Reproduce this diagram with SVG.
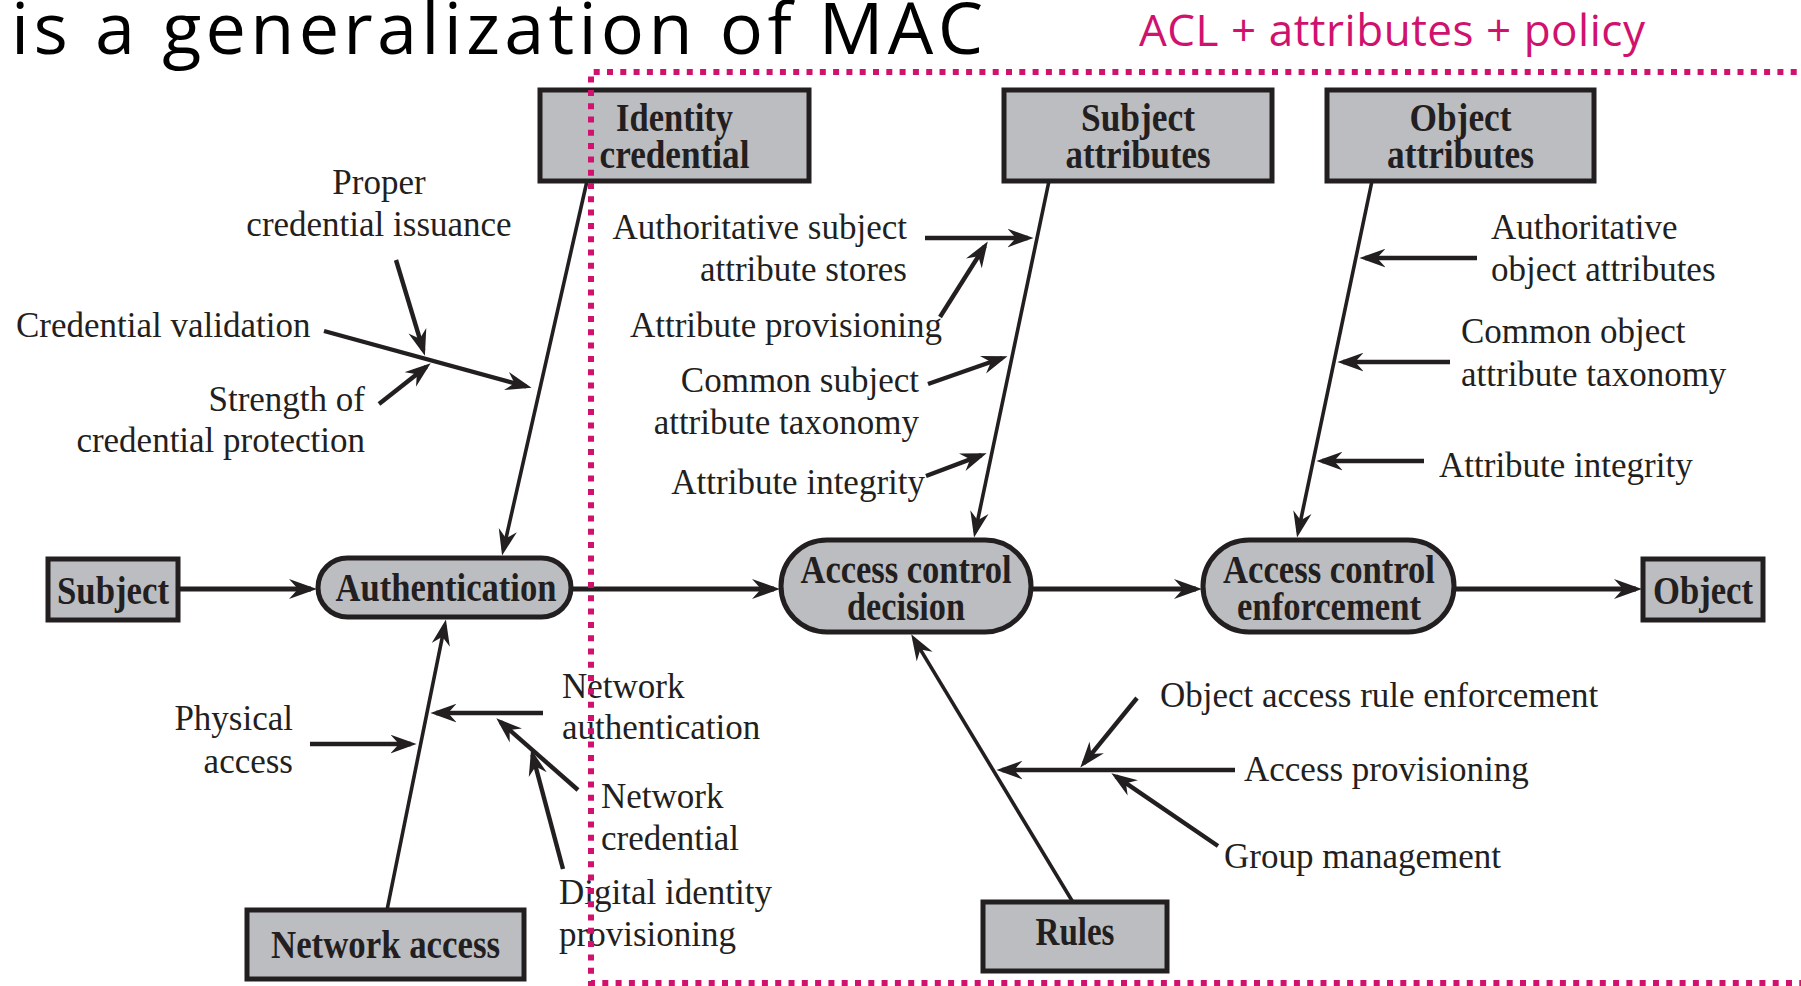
<svg xmlns="http://www.w3.org/2000/svg" width="1801" height="986" viewBox="0 0 1801 986">
  <defs>
    <marker id="arrow" viewBox="0 0 28 20" refX="22" refY="10" markerWidth="28" markerHeight="20" markerUnits="userSpaceOnUse" orient="auto">
      <path d="M0,0 L28,10 L0,20 L9,10 z" fill="#231f20"/>
    </marker>
    <marker id="arrow-s" viewBox="0 0 28 20" refX="22" refY="10" markerWidth="26" markerHeight="19" markerUnits="userSpaceOnUse" orient="auto">
      <path d="M0,0 L28,10 L0,20 L9,10 z" fill="#231f20"/>
    </marker>
  </defs>
  <style>
    .box { fill: #bcbdc0; stroke: #231f20; stroke-width: 5; }
    .lbl { font-family: "Liberation Serif", "Times New Roman", serif; font-weight: bold; font-size: 40px; fill: #231f20; text-anchor: middle; }
    .txt { font-family: "Liberation Serif", "Times New Roman", serif; font-size: 35px; fill: #231f20; }
    .end { text-anchor: end; }
    .mid { text-anchor: middle; }
    .main { stroke: #231f20; stroke-width: 5; fill: none; marker-end: url(#arrow); }
    .spine { stroke: #231f20; stroke-width: 3.6; fill: none; marker-end: url(#arrow-s); }
    .rib { stroke: #231f20; stroke-width: 4.4; fill: none; marker-end: url(#arrow-s); }
    .title { font-family: "Open Sans", "Noto Sans", sans-serif; font-size: 72px; fill: #000; }
    .accent { font-family: "Open Sans", "Noto Sans", sans-serif; font-size: 44px; fill: #d0126e; }
    .scope { fill: none; stroke: #d0126e; stroke-width: 6; stroke-dasharray: 6 7.3; }
  </style>

  <rect width="1801" height="986" fill="#fff"/>

  <!-- heading -->
  <text class="title" x="11" y="54" textLength="972" lengthAdjust="spacing">is a generalization of MAC</text>
  <text class="accent" x="1139" y="46" textLength="506" lengthAdjust="spacing">ACL + attributes + policy</text>

  <!-- connectors: main flow, spines and ribs -->
  <g id="connectors">
    <line class="main" x1="178" y1="589" x2="311" y2="589"/>
    <line class="main" x1="571" y1="589" x2="774" y2="589"/>
    <line class="main" x1="1031" y1="589" x2="1196" y2="589"/>
    <line class="main" x1="1454" y1="589" x2="1636" y2="589"/>

    <line class="spine" x1="587" y1="181" x2="503.3" y2="550.1"/>
    <line class="spine" x1="1049" y1="181" x2="975.2" y2="532.1"/>
    <line class="spine" x1="1372" y1="181" x2="1298.2" y2="532.1"/>
    <line class="spine" x1="387" y1="910" x2="444.8" y2="624.9"/>
    <line class="spine" x1="1074" y1="904" x2="914.1" y2="639.1"/>

    <!-- identity credential ribs -->
    <line class="rib" x1="324" y1="331" x2="526.2" y2="386.4"/>
    <line class="rib" x1="396" y1="260" x2="423.3" y2="350.3"/>
    <line class="rib" x1="379" y1="404" x2="426.3" y2="366.7"/>

    <!-- subject attribute ribs -->
    <line class="rib" x1="925" y1="238" x2="1028" y2="238"/>
    <line class="rib" x1="940" y1="317" x2="984.8" y2="246.1"/>
    <line class="rib" x1="928" y1="384" x2="1002.3" y2="358"/>
    <line class="rib" x1="926" y1="476" x2="981.4" y2="455.1"/>

    <!-- object attribute ribs -->
    <line class="rib" x1="1477" y1="258" x2="1365" y2="258"/>
    <line class="rib" x1="1450" y1="362" x2="1343" y2="362"/>
    <line class="rib" x1="1424" y1="461" x2="1322" y2="461"/>

    <!-- network access ribs -->
    <line class="rib" x1="310" y1="744" x2="411" y2="744"/>
    <line class="rib" x1="543" y1="713" x2="436" y2="713"/>
    <line class="rib" x1="578" y1="790" x2="500.5" y2="722"/>
    <line class="rib" x1="563" y1="869" x2="532.5" y2="754.8"/>

    <!-- rules ribs -->
    <line class="rib" x1="1235" y1="770" x2="1002" y2="770"/>
    <line class="rib" x1="1137" y1="698" x2="1083.8" y2="763.3"/>
    <line class="rib" x1="1218" y1="846" x2="1116" y2="776.4"/>
  </g>

  <!-- nodes -->
  <g id="identity-credential">
    <rect class="box" x="540" y="90" width="269" height="91"/>
    <text class="lbl" x="674.5" y="131" textLength="117" lengthAdjust="spacingAndGlyphs">Identity</text>
    <text class="lbl" x="674.5" y="168" textLength="150" lengthAdjust="spacingAndGlyphs">credential</text>
  </g>
  <g id="subject-attributes">
    <rect class="box" x="1004" y="90" width="268" height="91"/>
    <text class="lbl" x="1138" y="131" textLength="114" lengthAdjust="spacingAndGlyphs">Subject</text>
    <text class="lbl" x="1138" y="168" textLength="145" lengthAdjust="spacingAndGlyphs">attributes</text>
  </g>
  <g id="object-attributes">
    <rect class="box" x="1327" y="90" width="267" height="91"/>
    <text class="lbl" x="1460.5" y="131" textLength="102" lengthAdjust="spacingAndGlyphs">Object</text>
    <text class="lbl" x="1460.5" y="168" textLength="147" lengthAdjust="spacingAndGlyphs">attributes</text>
  </g>
  <g id="subject">
    <rect class="box" x="48" y="559" width="130" height="61"/>
    <text class="lbl" x="113" y="604" textLength="112" lengthAdjust="spacingAndGlyphs">Subject</text>
  </g>
  <g id="authentication">
    <rect class="box" x="318" y="558" width="253" height="59" rx="29.5"/>
    <text class="lbl" x="446" y="601" textLength="221" lengthAdjust="spacingAndGlyphs">Authentication</text>
  </g>
  <g id="access-control-decision">
    <rect class="box" x="781" y="540" width="250" height="92" rx="46"/>
    <text class="lbl" x="906" y="583" textLength="211" lengthAdjust="spacingAndGlyphs">Access control</text>
    <text class="lbl" x="906" y="620" textLength="118" lengthAdjust="spacingAndGlyphs">decision</text>
  </g>
  <g id="access-control-enforcement">
    <rect class="box" x="1203" y="540" width="251" height="92" rx="46"/>
    <text class="lbl" x="1329" y="583" textLength="212" lengthAdjust="spacingAndGlyphs">Access control</text>
    <text class="lbl" x="1329" y="620" textLength="184" lengthAdjust="spacingAndGlyphs">enforcement</text>
  </g>
  <g id="object">
    <rect class="box" x="1643" y="559" width="120" height="61"/>
    <text class="lbl" x="1703" y="604" textLength="100" lengthAdjust="spacingAndGlyphs">Object</text>
  </g>
  <g id="network-access">
    <rect class="box" x="247" y="910" width="277" height="69"/>
    <text class="lbl" x="385.5" y="958" textLength="229" lengthAdjust="spacingAndGlyphs">Network access</text>
  </g>
  <g id="rules">
    <rect class="box" x="983" y="902" width="184" height="69"/>
    <text class="lbl" x="1075" y="945" textLength="79" lengthAdjust="spacingAndGlyphs">Rules</text>
  </g>

  <!-- factor labels -->
  <g id="identity-factors">
    <text class="txt mid" x="379" y="194">Proper</text>
    <text class="txt mid" x="379" y="236">credential issuance</text>
    <text class="txt" x="16" y="337">Credential validation</text>
    <text class="txt end" x="365" y="411">Strength of</text>
    <text class="txt end" x="365" y="452">credential protection</text>
  </g>
  <g id="subject-attribute-factors">
    <text class="txt end" x="907" y="239">Authoritative subject</text>
    <text class="txt end" x="907" y="281">attribute stores</text>
    <text class="txt end" x="942" y="337">Attribute provisioning</text>
    <text class="txt end" x="919" y="392">Common subject</text>
    <text class="txt end" x="919" y="434">attribute taxonomy</text>
    <text class="txt end" x="925" y="494">Attribute integrity</text>
  </g>
  <g id="object-attribute-factors">
    <text class="txt" x="1491" y="239">Authoritative</text>
    <text class="txt" x="1491" y="281">object attributes</text>
    <text class="txt" x="1461" y="343">Common object</text>
    <text class="txt" x="1461" y="386">attribute taxonomy</text>
    <text class="txt" x="1439" y="477">Attribute integrity</text>
  </g>
  <g id="network-factors">
    <text class="txt end" x="293" y="730">Physical</text>
    <text class="txt end" x="293" y="773">access</text>
    <text class="txt" x="562" y="698">Network</text>
    <text class="txt" x="562" y="739">authentication</text>
    <text class="txt" x="601" y="808">Network</text>
    <text class="txt" x="601" y="850">credential</text>
    <text class="txt" x="559" y="904">Digital identity</text>
    <text class="txt" x="559" y="946">provisioning</text>
  </g>
  <g id="rules-factors">
    <text class="txt" x="1160" y="707">Object access rule enforcement</text>
    <text class="txt" x="1244" y="781">Access provisioning</text>
    <text class="txt" x="1224" y="868">Group management</text>
  </g>

  <!-- dotted scope frame, drawn over everything -->
  <path class="scope" d="M1810,72 H591 V983 H1810"/>
</svg>
